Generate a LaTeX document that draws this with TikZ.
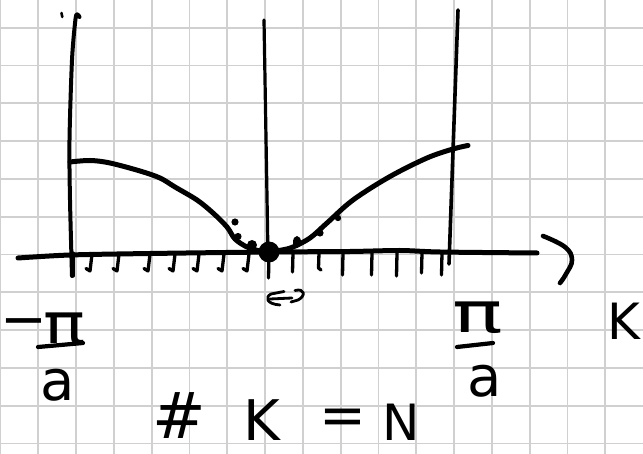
\documentclass[tikz,border=0pt]{standalone}
\usepackage{fontspec}
\newfontfamily\hand{DejaVu Sans}
\definecolor{gridgray}{RGB}{208,208,208}
\begin{document}
\begin{tikzpicture}[x=1pt,y=-1pt,
  gridline/.style={draw=gridgray, line width=1.8pt},
  ink/.style={line width=4.6pt, line cap=round, line join=round},
  thinink/.style={line width=3.2pt, line cap=round, line join=round},
  tickmark/.style={line width=3.3pt, line cap=round, line join=round},
  blob/.style={fill=black},
  lbl/.style={inner sep=0pt, font=\hand\fontsize{56}{60}\selectfont},
  klbl/.style={inner sep=0pt, font=\hand\fontsize{50}{56}\selectfont},
  hlbl/.style={inner sep=0pt, font=\hand\fontsize{64}{70}\selectfont},
  nlbl/.style={inner sep=0pt, font=\hand\fontsize{50}{56}\selectfont},
]
\fill[white] (0,0) rectangle (643,454);
\useasboundingbox (0,0) rectangle (643,454);
% grid paper
\foreach \i in {0,...,16} \draw[gridline] ({0.5+37.8*\i},0) -- ({0.5+37.8*\i},454);
\foreach \j in {0,...,11} \draw[gridline] (0,{27.7+37.8*\j}) -- (643,{27.7+37.8*\j});

% axis
\draw[ink, line width=5pt] plot[smooth, tension=0.5] coordinates {(18,258) (70,255) (150,253.5) (270,252) (350,251.5) (400,250.5) (440,252) (537,253)};
% arrow-like bracket
\draw[ink] plot[smooth, tension=0.7] coordinates {(543,236) (565,247) (572,260) (566,274) (560,283)};

% vertical lines
\draw[ink, line width=4pt] plot[smooth, tension=0.5] coordinates {(72,276) (70,200) (69.5,140) (72,60) (75.5,19) (77.5,14.5) (79.5,17)};
\draw[thinink, line width=2.6pt] (61.5,13) -- (62.3,17);
\draw[thinink] (264,20) -- (268,256);
\draw[thinink, line width=3.6pt] (458,10) -- (449,264);

% ticks
\draw[tickmark] (73,253) -- (73,276);
\foreach \x in {90,117,148,173,197,222,247}
  \draw[tickmark] (\x+2,254) -- (\x,271) -- (\x-4,268.5);
\foreach \x/\b in {269/278,293/272,343/275,372/275,397/276,422/273,442/275}
  \draw[tickmark] (\x,253) -- (\x-0.5,\b);
\draw[tickmark] (319,253) -- (318.5,268) -- (321,270);

% dispersion curve
\draw[ink, line width=5pt] plot[smooth, tension=0.55] coordinates {(70,162) (90,160.5) (110,163) (140,171) (160,178) (175,187) (197,200) (213,213) (227,227) (235,239) (247,247) (260,251) (269,252)};
\draw[ink, line width=5pt] plot[smooth, tension=0.55] coordinates {(269,252) (282,250) (293,247) (310,238) (327,223) (353,200) (390,176.5) (427,158) (453,149) (468,145.5)};

% dots
\fill[blob] (269,252) circle (10.5);
\fill[blob] (235,222) circle (3.6);
\fill[blob] (238,236.5) circle (3.6);
\fill[blob] (252,245) circle (5);
\fill[blob] (297,242) ellipse (4 and 6);
\fill[blob] (320,233) circle (3.6);
\fill[blob] (338,218) circle (3.2);

% small double hook under origin
\draw[thinink, line width=2.8pt] (284,291.5) -- (271,294) .. controls (265,297) and (266,304) .. (280,305);
\draw[thinink, line width=2.8pt] (270,299) -- (292,298);
\draw[thinink, line width=2.8pt] (295,290.5) .. controls (305,288) and (306,296) .. (298,300) -- (291,302);

% left label  -pi/a
\node[lbl] (lminus) at (24,329) {−};
\node[lbl, xscale=1.25] (lpi) at (65,329) {π};
\coordinate (lbarA) at (38,347);
\coordinate (lbarB) at (83,343);
\draw[ink, line width=4.2pt] (lbarA) -- (lbarB);
\node[lbl] (la) at (58,385) {a};

% right label  pi/a
\node[lbl, xscale=1.5] (rpi) at (478,318) {π};
\coordinate (rbarA) at (457,347);
\coordinate (rbarB) at (493,343);
\draw[ink, line width=4.2pt] (rbarA) -- (rbarB);
\node[lbl] (ra) at (485,381) {a};

% axis label
\node[klbl] (klabel) at (624,321) {K};

% #K = N
\node[hlbl] (hash) at (179,416) {\#};
\node[lbl] (bigk) at (262,420) {K};
\node[lbl] (eq) at (343,422) {=};
\node[nlbl] (bign) at (401,422) {N};
\end{tikzpicture}
\end{document}
